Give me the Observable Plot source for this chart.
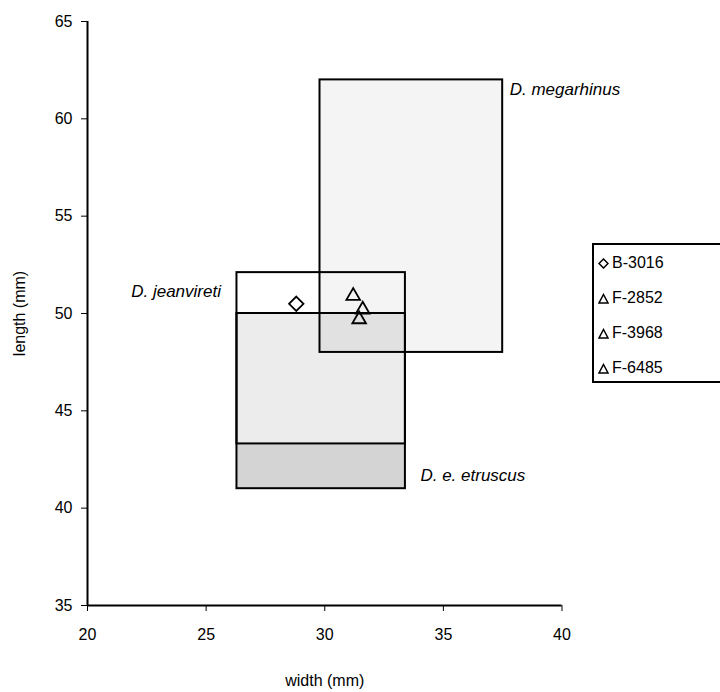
<!DOCTYPE html>
<html><head><meta charset="utf-8">
<script src="https://cdn.jsdelivr.net/npm/d3@7"></script>
<script src="https://cdn.jsdelivr.net/npm/@observablehq/plot@0.6"></script>
<style>
body{margin:0;background:#fff;}
#wrap{position:relative;width:720px;height:692px;font-family:"Liberation Sans",Arial,sans-serif;}
#legend{position:absolute;left:592px;top:243px;width:128px;height:140px;border:2px solid #000;border-right:none;box-sizing:border-box;background:#fff;}
.entry{position:absolute;left:4px;height:18px;font-size:16px;line-height:18px;display:flex;align-items:center;gap:3px;color:#000;}
.entry svg{display:block;}
</style></head>
<body><div id="wrap"><div id="chart"></div><div id="legend"></div></div>
<script>
// ranges of the three taxa (width and length in mm)
const species = ["D. megarhinus", "D. jeanvireti", "D. e. etruscus"];
const widthMin = [29.8, 26.3, 26.3];
const widthMax = [37.5, 33.4, 33.4];
const lengthMin = [48, 43.3, 41];
const lengthMax = [62, 52.1, 50];
// specimens
const specimens = ["B-3016", "F-2852", "F-3968", "F-6485"];
const specWidth = [28.8, 31.2, 31.6, 31.45];
const specLength = [50.5, 50.9, 50.2, 49.7];
const specSymbol = ["diamond2", "triangle2", "triangle2", "triangle2"];
// axes
const xTicks = [20, 25, 30, 35, 40];
const yTicks = [35, 40, 45, 50, 55, 60, 65];

const boxes = species.map((s, i) => ({s, x1: widthMin[i], x2: widthMax[i], y1: lengthMin[i], y2: lengthMax[i]}));
const pts = specimens.map((s, i) => ({s, x: specWidth[i], y: specLength[i], sym: specSymbol[i]}));
const byName = n => boxes.filter(b => b.s === n);

const chart = Plot.plot({
  width: 720, height: 692,
  marginLeft: 87, marginRight: 158.5, marginTop: 21, marginBottom: 87,
  style: {fontFamily: '"Liberation Sans", Arial, sans-serif', fontSize: "16px", color: "#000", background: "#fff"},
  x: {domain: [20, 40]},
  y: {domain: [35, 65]},
  marks: [
    // fills
    Plot.rect(byName("D. e. etruscus"), {x1: "x1", x2: "x2", y1: "y1", y2: "y2", fill: "#d4d4d4"}),
    Plot.rect(byName("D. jeanvireti"), {x1: "x1", x2: "x2", y1: "y1", y2: "y2", fill: "#fff", fillOpacity: 0.55}),
    Plot.rect(byName("D. megarhinus"), {x1: "x1", x2: "x2", y1: "y1", y2: "y2", fill: "#000", fillOpacity: 0.045}),
    // outlines
    Plot.rect(boxes, {x1: "x1", x2: "x2", y1: "y1", y2: "y2", fill: "none", stroke: "#000", strokeWidth: 2}),
    // axes
    Plot.axisX({ticks: xTicks, tickSize: 6, tickPadding: 17, tickFormat: d => d, label: "width (mm)", labelAnchor: "center", labelArrow: "none", labelOffset: 80, fontSize: 16}),
    Plot.axisY({ticks: yTicks, tickSize: 6, tickPadding: 9, tickFormat: d => d, label: "length (mm)", labelAnchor: "center", labelArrow: "none", labelOffset: 74, fontSize: 16}),
    Plot.ruleX([20], {strokeWidth: 2}),
    Plot.ruleY([35], {strokeWidth: 2}),
    // labels
    Plot.text(byName("D. megarhinus"), {x: "x2", y: "y2", text: "s", textAnchor: "start", dx: 7, dy: 10, fontStyle: "italic", fontSize: 17}),
    Plot.text(byName("D. jeanvireti"), {x: "x1", y: "y2", text: "s", textAnchor: "end", dx: -16, dy: 19, fontStyle: "italic", fontSize: 17}),
    Plot.text(byName("D. e. etruscus"), {x: "x2", y: "y1", text: "s", textAnchor: "start", dx: 15, dy: -13, fontStyle: "italic", fontSize: 17}),
    // specimens
    Plot.dot(pts, {x: "x", y: "y", symbol: "sym", r: 6.5, stroke: "#000", strokeWidth: 1.8, fill: "#fff", fillOpacity: 0}),
  ]
});
document.getElementById("chart").append(chart);

// legend
const lg = document.getElementById("legend");
const symPath = {
  diamond2: "M5.5,1 L10,5.5 L5.5,10 L1,5.5 Z",
  triangle2: "M5.5,1.5 L10,10 L1,10 Z"
};
specimens.forEach((s, i) => {
  const e = document.createElement("div");
  e.className = "entry";
  e.style.top = (9 + i * 35) + "px";
  e.innerHTML = `<svg width="11" height="11"><path d="${symPath[specSymbol[i]]}" fill="none" stroke="#000" stroke-width="1.5"/></svg><span>${s}</span>`;
  lg.append(e);
});
</script>
</body></html>
